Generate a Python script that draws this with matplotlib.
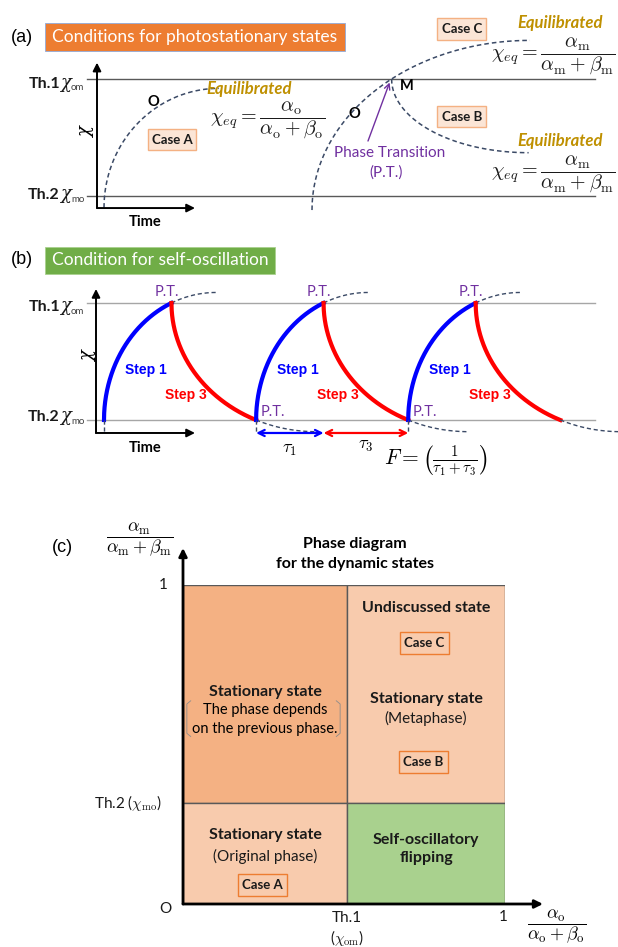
import numpy as np
import matplotlib.pyplot as plt
from matplotlib.patches import Rectangle

plt.rcParams['font.family'] = ['Lato', 'DejaVu Sans']
plt.rcParams['mathtext.fontset'] = 'cm'

W, H = 618, 947

# chi thresholds (Th.2 = chi_mo -> 0, Th.1 = chi_om -> 1)
th2_level = 0.0
th1_level = 1.0

# panel (a): relaxation curves (start time, start chi, equilibrium chi, duration)
curve_orig = (104, -0.10, 0.92, 115)
curve_cross = (312, -0.12, 1.33, 218)
case_b_eq, case_b_span = 0.37, 137

# panel (b): self-oscillation
osc_start = 104
step1_eq, step1_span = 1.09, 112
step3_eq, step3_span = -0.10, 145
n_cycles = 3

# panel (c): phase diagram
th1_x = 0.51
th2_y = 0.317
region_x0 = [0.0, th1_x, 0.0, th1_x]
region_x1 = [th1_x, 1.0, th1_x, 1.0]
region_y0 = [th2_y, th2_y, 0.0, 0.0]
region_y1 = [1.0, 1.0, th2_y, th2_y]
region_colors = ['#F4B183', '#F8CBAD', '#F8CBAD', '#A9D18E']

ORANGE = '#ED7D31'
GREEN = '#70AD47'
PURPLE = '#7030A0'
GOLD = '#BF9000'
DASH = '#3B4A66'
CASEFILL = '#FBE5D6'
CASEEDGE = '#F4B183'


def arc(t0, y0, y_end, span, n=2000):
    # quarter-ellipse relaxation: vertical tangent at start, flat at end
    s = np.linspace(0, 1, n)
    return t0 + span * s, y0 + (y_end - y0) * np.sqrt(1 - (1 - s) ** 2)


fig = plt.figure(figsize=(W / 100, H / 100), dpi=100)


def ftext(x, y, s, **kw):
    kw.setdefault('ha', 'center')
    kw.setdefault('va', 'center')
    return fig.text(x / W, 1 - y / H, s, **kw)


def fbox(x0, y0, x1, y1, **kw):
    fig.patches.append(Rectangle((x0 / W, 1 - y1 / H), (x1 - x0) / W, (y1 - y0) / H,
                                 transform=fig.transFigure, **kw))


def case_box(cx, cy, label, w=48, h=21, fill=CASEFILL, edge=CASEEDGE, fs=9.5):
    fbox(cx - w / 2, cy - h / 2, cx + w / 2, cy + h / 2, facecolor=fill, edgecolor=edge, lw=1)
    ftext(cx, cy, label, fontsize=fs, fontweight='bold', color='#1a1a1a')


def th_label(x_right, y, name, sub):
    ftext(x_right - 22, y, name, ha='right', fontsize=11.5, fontweight='bold', color='#1a1a1a')
    ftext(x_right - 22, y - 1, '\u03c7', ha='left', fontsize=13, style='italic',
          family='DejaVu Serif', color='#1a1a1a')
    ftext(x_right - 11, y + 4, sub, ha='left', fontsize=7, color='#404040')


def axis_arrow(ax, xy0, xy1, lw=1.4):
    ax.annotate('', xy=xy1, xytext=xy0, annotation_clip=False,
                arrowprops=dict(arrowstyle='-|>', lw=lw, color='k', mutation_scale=12,
                                shrinkA=0, shrinkB=0))


# ---------------- panel (a) ----------------
axA = fig.add_axes([0, 1 - 235 / H, 1, 235 / H])
axA.set_xlim(0, W)
axA.set_ylim((196 - 235) / 117, 196 / 117)
axA.axis('off')

for lev in (th1_level, th2_level):
    axA.plot([87, 595], [lev, lev], color='#595959', lw=1)
axis_arrow(axA, (97, -0.103), (97, 1.14))
axis_arrow(axA, (97, -0.103), (195, -0.103))

dash_kw = dict(color=DASH, lw=1.1, ls=(0, (3, 2)))
t, y = arc(*curve_orig)
axA.plot(t, y, **dash_kw)
t, y = arc(*curve_cross)
axA.plot(t, y, **dash_kw)
kM = np.argmax(y >= th1_level)
tM = t[kM]
tb, yb = arc(tM, th1_level, case_b_eq, case_b_span)
axA.plot(tb, yb, **dash_kw)

fbox(45, 23, 345, 51, facecolor=ORANGE, edgecolor='#8FAADC', lw=0.6)
ftext(195, 37, 'Conditions for photostationary states', fontsize=12.5, color='white')
ftext(22, 37, '(a)', fontsize=13, family='Liberation Sans')
th_label(82, 84, 'Th.1', 'om')
th_label(82, 195, 'Th.2', 'mo')
ftext(86, 133, '\u03c7', fontsize=13, style='italic', family='DejaVu Serif', rotation=90)
ftext(145, 222, 'Time', fontsize=10.5, fontweight='bold')
ftext(153, 102, 'O', fontsize=10.5, fontweight='bold')
ftext(354, 114, 'O', fontsize=10.5, fontweight='bold')
ftext(407, 86, 'M', fontsize=10.5, fontweight='bold')
case_box(172, 140, 'Case A')
case_box(462, 29, 'Case C', w=49, h=22)
case_box(462, 117, 'Case B', w=49, h=21)

eq_kw = dict(fontsize=12, fontweight='bold', style='italic', color=GOLD)
ftext(249, 89, 'Equilibrated', **eq_kw)
ftext(560, 23, 'Equilibrated', **eq_kw)
ftext(560, 141, 'Equilibrated', **eq_kw)
frac_o = r'$\chi_{eq}=\dfrac{\alpha_{\rm o}}{\alpha_{\rm o}+\beta_{\rm o}}$'
frac_m = r'$\chi_{eq}=\dfrac{\alpha_{\rm m}}{\alpha_{\rm m}+\beta_{\rm m}}$'
ftext(268, 120, frac_o, fontsize=14.5, color='#1a1a1a')
ftext(553, 56, frac_m, fontsize=14.5, color='#1a1a1a')
ftext(553, 174, frac_m, fontsize=14.5, color='#1a1a1a')

axA.annotate('', xy=(tM - 2, th1_level - 0.03), xytext=(368, (196 - 141) / 117),
             arrowprops=dict(arrowstyle='->', color=PURPLE, lw=1, shrinkA=0, shrinkB=0,
                             mutation_scale=10))
ftext(390, 153, 'Phase Transition', fontsize=11, color=PURPLE)
ftext(386, 173, '(P.T.)', fontsize=11, color=PURPLE)

# ---------------- panel (b) ----------------
axB = fig.add_axes([0, 1 - 470 / H, 1, 230 / H])
axB.set_xlim(0, W)
axB.set_ylim((420 - 470) / 117, (420 - 240) / 117)
axB.axis('off')

for lev in (th1_level, th2_level):
    axB.plot([87, 595], [lev, lev], color='#A6A6A6', lw=1)
base_b = -0.111
axis_arrow(axB, (96, base_b), (96, 1.12))
axis_arrow(axB, (96, base_b), (195, base_b))

fbox(45, 247, 275, 274, facecolor=GREEN, edgecolor='#A9D18E', lw=0.6)
ftext(160, 260, 'Condition for self-oscillation', fontsize=12.5, color='white')
ftext(22, 260, '(b)', fontsize=13, family='Liberation Sans')
th_label(82, 307, 'Th.1', 'om')
th_label(82, 417, 'Th.2', 'mo')
ftext(88, 357, '\u03c7', fontsize=13, style='italic', family='DejaVu Serif', rotation=90)
ftext(145, 448, 'Time', fontsize=10.5, fontweight='bold')

dash_b = dict(color=DASH, lw=1.0, ls=(0, (3, 2)))
starts, pts = [], []
t0 = osc_start
for i in range(n_cycles):
    starts.append(t0)
    t1, y1 = arc(t0, th2_level, step1_eq, step1_span)
    k1 = np.argmax(y1 >= th1_level)
    axB.plot(t1[:k1 + 1], y1[:k1 + 1], color='#0000FF', lw=3)
    axB.plot(t1[k1:], y1[k1:], **dash_b)
    tp = t1[k1]
    pts.append(tp)
    t3, y3 = arc(tp, th1_level, step3_eq, step3_span)
    k3 = np.argmax(y3 <= th2_level)
    axB.plot(t3[:k3 + 1], y3[:k3 + 1], color='#FF0000', lw=3)
    axB.plot(t3[k3:], y3[k3:], **dash_b)
    axB.plot([t0, t0], [th2_level, base_b], **dash_b)
    lab = dict(fontsize=10, fontweight='bold', family='Liberation Sans', ha='center', va='center')
    axB.text(t0 + 42, 0.43, 'Step 1', color='#0000FF', **lab)
    axB.text(tp + 14, 0.21, 'Step 3', color='#FF0000', **lab)
    axB.text(tp - 5, 1.09, 'P.T.', color=PURPLE, fontsize=10.5, ha='center', va='center')
    if i > 0:
        axB.text(t0 + 17, 0.07, 'P.T.', color=PURPLE, fontsize=10.5, ha='center', va='center')
    t0 = t3[k3]

ta, tb_, tc = starts[1], pts[1], starts[2]
arr = dict(arrowstyle='<->', lw=1.6, shrinkA=0, shrinkB=0, mutation_scale=11)
axB.annotate('', xy=(tb_, base_b), xytext=(ta, base_b), arrowprops=dict(color='#0000FF', **arr))
axB.annotate('', xy=(tc, base_b), xytext=(tb_, base_b), arrowprops=dict(color='#FF0000', **arr))
axB.text((ta + tb_) / 2, -0.26, r'$\tau_1$', fontsize=13, ha='center', va='center')
axB.text((tb_ + tc) / 2, -0.22, r'$\tau_3$', fontsize=13, ha='center', va='center')
ftext(436, 461, r'$F=\left(\frac{1}{\tau_1+\tau_3}\right)$', fontsize=15.5)

# ---------------- panel (c) ----------------
axC = fig.add_axes([183 / W, 1 - 904 / H, 322 / W, 319 / H])
axC.set_xlim(0, 1)
axC.set_ylim(0, 1)
axC.axis('off')

for x0, x1, y0, y1, c in zip(region_x0, region_x1, region_y0, region_y1, region_colors):
    axC.add_patch(Rectangle((x0, y0), x1 - x0, y1 - y0, facecolor=c,
                            edgecolor='#595959', lw=1))
axis_arrow(axC, (0, 0), (0, 1.116), lw=2)
axis_arrow(axC, (0, 0), (1.118, 0), lw=2)

ftext(62, 547, '(c)', fontsize=13, family='Liberation Sans')
ftext(140, 540, r'$\dfrac{\alpha_{\rm m}}{\alpha_{\rm m}+\beta_{\rm m}}$', fontsize=13)
ftext(557, 927, r'$\dfrac{\alpha_{\rm o}}{\alpha_{\rm o}+\beta_{\rm o}}$', fontsize=13)
ftext(355, 544, 'Phase diagram', fontsize=11.5, fontweight='bold')
ftext(355, 564, 'for the dynamic states', fontsize=11.5, fontweight='bold')

tick_kw = dict(fontsize=11, ha='center', va='center', color='#1a1a1a')
axC.text(-0.06, 1.0, '1', **tick_kw)
axC.text(-0.17, th2_y, r'Th.2 ($\chi_{\rm mo}$)', **tick_kw)
axC.text(-0.055, -0.017, 'O', **tick_kw)
axC.text(th1_x, -0.045, 'Th.1', **tick_kw)
axC.text(th1_x, -0.108, r'($\chi_{\rm om}$)', **tick_kw)
axC.text(0.995, -0.042, '1', **tick_kw)

bold = dict(fontsize=11.5, fontweight='bold', ha='center', va='center', color='#1a1a1a')
norm = dict(fontsize=11, ha='center', va='center', color='#1a1a1a')
cl, cr = th1_x / 2, (th1_x + 1) / 2
axC.text(cl, 0.665, 'Stationary state', **bold)
axC.text(cl, 0.607, 'The phase depends', fontsize=10.5, ha='center', va='center')
axC.text(cl, 0.549, 'on the previous phase.', fontsize=10.5, ha='center', va='center')
axC.plot([0.024, 0.012, 0.012, 0.024], [0.637, 0.627, 0.535, 0.525], color='#8c8c8c', lw=0.6)
axC.plot([0.476, 0.488, 0.488, 0.476], [0.637, 0.627, 0.535, 0.525], color='#8c8c8c', lw=0.6)
axC.text(cr, 0.928, 'Undiscussed state', **bold)
axC.text(cr, 0.643, 'Stationary state', **bold)
axC.text(cr, 0.583, '(Metaphase)', **norm)
axC.text(cl, 0.216, 'Stationary state', **bold)
axC.text(cl, 0.150, '(Original phase)', **norm)
axC.text(cr, 0.172, 'Self-oscillatory\nflipping', linespacing=1.3, **bold)
case_box(424, 643, 'Case C', w=49, h=22, fill='none', edge=ORANGE)
case_box(423, 762, 'Case B', w=49, h=22, fill='none', edge=ORANGE)
case_box(262, 885, 'Case A', w=49, h=22, fill='none', edge=ORANGE)

fig.savefig('out.png', dpi=100)
